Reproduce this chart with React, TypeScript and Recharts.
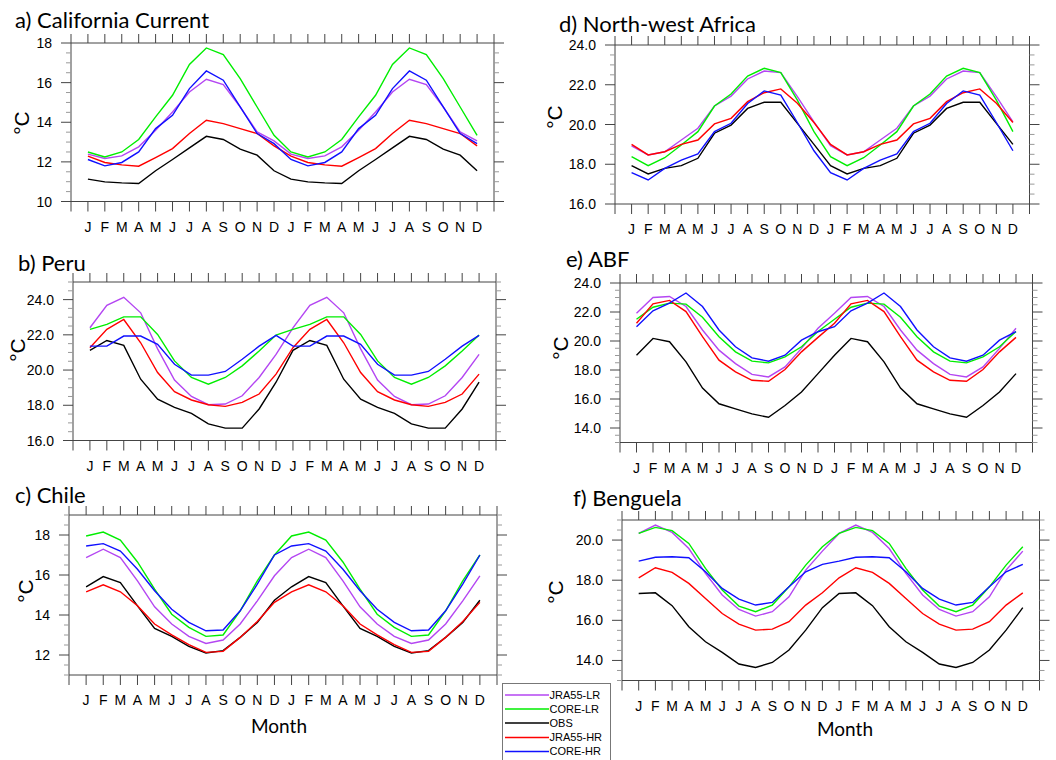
import React from 'react';
import { LineChart, Line, XAxis, YAxis } from 'recharts';

// ---------- data ----------
const MONTHS = ['J', 'F', 'M', 'A', 'M', 'J', 'J', 'A', 'S', 'O', 'N', 'D'];
const SERIES_NAMES = ['JRA55-LR', 'CORE-LR', 'OBS', 'JRA55-HR', 'CORE-HR'];
const SERIES_KEYS = ['jra55lr', 'corelr', 'obs', 'jra55hr', 'corehr'];
const SERIES_COLORS = ['#B446F2', '#00EE00', '#000000', '#FF0000', '#1010FF'];

// a) California Current
const calJra55Lr = [12.39, 12.17, 12.3, 12.76, 13.6, 14.52, 15.53, 16.17, 15.9, 14.77, 13.51, 13.06];
const calCoreLr = [12.5, 12.25, 12.5, 13.13, 14.27, 15.36, 16.92, 17.75, 17.41, 16.2, 14.77, 13.34];
const calObs = [11.13, 10.99, 10.94, 10.91, 11.55, 12.12, 12.71, 13.29, 13.13, 12.64, 12.34, 11.55];
const calJra55Hr = [12.29, 11.97, 11.85, 11.78, 12.22, 12.67, 13.43, 14.1, 13.93, 13.68, 13.43, 12.81];
const calCoreHr = [12.12, 11.8, 11.97, 12.5, 13.68, 14.35, 15.7, 16.59, 16.12, 14.77, 13.43, 12.92];

// b) Peru
const peruJra55Lr = [22.4, 23.68, 24.13, 23.25, 21.2, 19.43, 18.5, 18.03, 18.07, 18.54, 19.58, 20.89];
const peruCoreLr = [22.31, 22.59, 23.02, 23.02, 22.02, 20.52, 19.58, 19.2, 19.58, 20.24, 21.08, 21.99];
const peruObs = [21.12, 21.68, 21.4, 19.48, 18.35, 17.88, 17.54, 16.94, 16.7, 16.7, 17.79, 19.31];
const peruJra55Hr = [21.27, 22.31, 22.87, 21.55, 19.86, 18.77, 18.3, 18.03, 17.94, 18.16, 18.64, 19.77];
const peruCoreHr = [21.36, 21.36, 21.93, 21.93, 21.46, 20.33, 19.71, 19.71, 19.92, 20.61, 21.36, 21.97];

// c) Chile
const chileJra55Lr = [16.87, 17.29, 16.87, 15.71, 14.41, 13.55, 12.93, 12.58, 12.75, 13.55, 14.71, 15.96];
const chileCoreLr = [17.95, 18.15, 17.75, 16.65, 15.29, 14.04, 13.38, 12.93, 13.0, 14.21, 15.71, 17.0];
const chileObs = [15.41, 15.92, 15.62, 14.46, 13.33, 12.93, 12.43, 12.1, 12.22, 12.88, 13.63, 14.74];
const chileJra55Hr = [15.16, 15.51, 15.16, 14.46, 13.55, 13.01, 12.52, 12.13, 12.18, 12.88, 13.68, 14.63];
const chileCoreHr = [17.45, 17.57, 17.2, 16.29, 15.21, 14.29, 13.63, 13.21, 13.25, 14.21, 15.54, 17.0];

// d) North-west Africa
const nwaJra55Lr = [18.93, 18.47, 18.63, 19.22, 19.81, 20.93, 21.43, 22.29, 22.69, 22.61, 21.4, 20.13];
const nwaCoreLr = [18.38, 17.93, 18.33, 18.97, 19.64, 20.93, 21.53, 22.44, 22.83, 22.61, 21.23, 19.64];
const nwaObs = [17.93, 17.51, 17.79, 17.93, 18.3, 19.56, 19.97, 20.81, 21.12, 21.12, 20.06, 19.0];
const nwaJra55Hr = [19.0, 18.47, 18.63, 19.0, 19.22, 20.03, 20.31, 21.15, 21.6, 21.79, 21.07, 20.1];
const nwaCoreHr = [17.58, 17.21, 17.79, 18.21, 18.52, 19.64, 20.06, 21.06, 21.69, 21.48, 20.1, 18.68];

// e) ABF
const abfJra55Lr = [21.92, 23.0, 23.07, 22.38, 20.76, 19.37, 18.44, 17.7, 17.52, 18.21, 19.49, 20.88];
const abfCoreLr = [21.5, 22.33, 22.61, 22.54, 21.64, 20.3, 19.25, 18.61, 18.49, 18.91, 19.6, 20.66];
const abfObs = [19.02, 20.18, 19.95, 18.56, 16.75, 15.67, 15.32, 14.97, 14.74, 15.55, 16.48, 17.75];
const abfJra55Hr = [21.22, 22.56, 22.8, 22.03, 20.3, 18.68, 17.87, 17.29, 17.22, 18.03, 19.25, 20.25];
const abfCoreHr = [20.99, 22.08, 22.61, 23.31, 22.38, 20.76, 19.6, 18.84, 18.61, 19.02, 20.06, 20.64];

// f) Benguela
const bengJra55Lr = [20.33, 20.75, 20.38, 19.58, 18.34, 17.26, 16.54, 16.21, 16.43, 17.17, 18.5, 19.45];
const bengCoreLr = [20.33, 20.63, 20.47, 19.83, 18.59, 17.51, 16.71, 16.43, 16.76, 17.67, 18.75, 19.67];
const bengObs = [17.34, 17.37, 16.73, 15.68, 14.93, 14.4, 13.82, 13.65, 13.9, 14.52, 15.51, 16.63];
const bengJra55Hr = [18.12, 18.62, 18.39, 17.84, 17.09, 16.34, 15.81, 15.51, 15.56, 15.93, 16.76, 17.37];
const bengCoreHr = [18.95, 19.14, 19.17, 19.12, 18.42, 17.59, 17.06, 16.76, 16.89, 17.67, 18.42, 18.79];

// ---------- helpers ----------
const AXIS = '#444';
const MINOR = '#999';
const TICK_FONT = '"Liberation Sans", Arial, Helvetica, sans-serif';
const TITLE_FONT = 'Lato, "Open Sans", sans-serif';

function buildRows(series: number[][]) {
  const rows: any[] = [];
  for (let rep = 0; rep < 2; rep++) {
    for (let m = 0; m < 12; m++) {
      const row: any = { x: rep * 12 + m };
      SERIES_KEYS.forEach((k, i) => {
        row[k] = series[i][m];
      });
      rows.push(row);
    }
  }
  return rows;
}

const X_TICKS = Array.from({ length: 26 }, (_, i) => i - 1);

function isMajor(v: number) {
  return Math.abs(v / 2 - Math.round(v / 2)) < 1e-6;
}

type PanelProps = {
  title: string;
  series: number[][];
  domain: [number, number];
  decimals: number;
  box: { l: number; t: number; r: number; b: number };
};

const LW = 80;
const RW = 20;
const TH = 16;
const BH = 44;

function Panel({ series, domain, decimals, box }: PanelProps) {
  const rows = buildRows(series);
  const w = box.r - box.l;
  const h = box.b - box.t;
  const yTicks: number[] = [];
  for (let v = domain[0]; v <= domain[1] + 1e-6; v += 0.5) yTicks.push(Math.round(v * 10) / 10);

  const bottomTick = (p: any) => {
    const v = p.payload.value;
    const lab = v >= 0 && v <= 23 ? MONTHS[v % 12] : '';
    return (
      <g>
        <line x1={p.x} y1={p.y} x2={p.x} y2={p.y + 10} stroke={AXIS} strokeWidth={1} />
        <text x={p.x} y={p.y + 30} textAnchor="middle" fontSize={14} fontFamily={TICK_FONT} fill="#000">
          {lab}
        </text>
      </g>
    );
  };
  const topTick = (p: any) => (
    <line x1={p.x} y1={p.y} x2={p.x} y2={p.y - 9} stroke={AXIS} strokeWidth={1} />
  );
  const leftTick = (p: any) => {
    const v = p.payload.value;
    const major = isMajor(v);
    return (
      <g>
        <line x1={p.x - (major ? 10 : 5)} y1={p.y} x2={p.x} y2={p.y} stroke={major ? AXIS : MINOR} strokeWidth={1} />
        {major && (
          <text x={p.x - 19} y={p.y} dy="0.36em" textAnchor="end" fontSize={14} fontFamily={TICK_FONT} fill="#000">
            {v.toFixed(decimals)}
          </text>
        )}
      </g>
    );
  };
  const rightTick = (p: any) => {
    const v = p.payload.value;
    const major = isMajor(v);
    return <line x1={p.x} y1={p.y} x2={p.x + (major ? 10 : 5)} y2={p.y} stroke={major ? AXIS : MINOR} strokeWidth={1} />;
  };

  return (
    <div style={{ position: 'absolute', left: box.l - LW, top: box.t - TH }}>
      <LineChart width={w + LW + RW} height={h + TH + BH} data={rows} margin={{ top: 0, right: 0, bottom: 0, left: 0 }}>
        <XAxis
          xAxisId="b"
          dataKey="x"
          type="number"
          domain={[-1, 24]}
          allowDataOverflow
          ticks={X_TICKS}
          interval={0}
          height={BH}
          tickLine={false}
          tickSize={0}
          tickMargin={0}
          axisLine={{ stroke: AXIS, strokeWidth: 1 }}
          tick={bottomTick}
        />
        <XAxis
          xAxisId="t"
          dataKey="x"
          orientation="top"
          type="number"
          domain={[-1, 24]}
          allowDataOverflow
          ticks={X_TICKS}
          interval={0}
          height={TH}
          tickLine={false}
          tickSize={0}
          tickMargin={0}
          axisLine={{ stroke: AXIS, strokeWidth: 1 }}
          tick={topTick}
        />
        <YAxis
          yAxisId="l"
          type="number"
          domain={domain}
          allowDataOverflow
          ticks={yTicks}
          interval={0}
          width={LW}
          tickLine={false}
          tickSize={0}
          tickMargin={0}
          axisLine={{ stroke: AXIS, strokeWidth: 1 }}
          tick={leftTick}
        />
        <YAxis
          yAxisId="r"
          orientation="right"
          type="number"
          domain={domain}
          allowDataOverflow
          ticks={yTicks}
          interval={0}
          width={RW}
          tickLine={false}
          tickSize={0}
          tickMargin={0}
          axisLine={{ stroke: AXIS, strokeWidth: 1 }}
          tick={rightTick}
        />
        {SERIES_KEYS.map((k, i) => (
          <Line
            key={k}
            xAxisId="b"
            yAxisId="l"
            dataKey={k}
            name={SERIES_NAMES[i]}
            stroke={SERIES_COLORS[i]}
            strokeWidth={1.4}
            dot={false}
            activeDot={false}
            type="linear"
            isAnimationActive={false}
          />
        ))}
      </LineChart>
    </div>
  );
}

const PANELS: (PanelProps & { tx: number; ty: number; cx: number; cy: number })[] = [
  {
    title: 'a) California Current',
    series: [calJra55Lr, calCoreLr, calObs, calJra55Hr, calCoreHr],
    domain: [10, 18],
    decimals: 0,
    box: { l: 70.5, t: 43, r: 493.5, b: 201.5 },
    tx: 15, ty: 27.5, cx: 21, cy: 123,
  },
  {
    title: 'b) Peru',
    series: [peruJra55Lr, peruCoreLr, peruObs, peruJra55Hr, peruCoreHr],
    domain: [16, 25],
    decimals: 1,
    box: { l: 72.5, t: 281.5, r: 495.5, b: 440 },
    tx: 18, ty: 270.5, cx: 17, cy: 350,
  },
  {
    title: 'c) Chile',
    series: [chileJra55Lr, chileCoreLr, chileObs, chileJra55Hr, chileCoreHr],
    domain: [11, 19],
    decimals: 0,
    box: { l: 68.5, t: 514.5, r: 496.5, b: 674.5 },
    tx: 15, ty: 502.5, cx: 25, cy: 591,
  },
  {
    title: 'd) North-west Africa',
    series: [nwaJra55Lr, nwaCoreLr, nwaObs, nwaJra55Hr, nwaCoreHr],
    domain: [16, 24],
    decimals: 1,
    box: { l: 615, t: 45, r: 1029.5, b: 204 },
    tx: 559, ty: 31.5, cx: 554, cy: 117,
  },
  {
    title: 'e) ABF',
    series: [abfJra55Lr, abfCoreLr, abfObs, abfJra55Hr, abfCoreHr],
    domain: [13, 24],
    decimals: 1,
    box: { l: 620, t: 282.5, r: 1032.5, b: 442 },
    tx: 566, ty: 266.5, cx: 560, cy: 348,
  },
  {
    title: 'f) Benguela',
    series: [bengJra55Lr, bengCoreLr, bengObs, bengJra55Hr, bengCoreHr],
    domain: [13, 21],
    decimals: 1,
    box: { l: 621.5, t: 519.5, r: 1039, b: 680 },
    tx: 573, ty: 506, cx: 555, cy: 592,
  },
];

const LEGEND_ROWS_Y = [695, 709, 723, 737.5, 751.5];

export default function App() {
  return (
    <div style={{ position: 'absolute', left: 0, top: 0, width: 1056, height: 760, background: '#fff', overflow: 'hidden' }}>
      {PANELS.map((p) => (
        <Panel key={p.title} {...p} />
      ))}
      <svg width={1056} height={760} style={{ position: 'absolute', left: 0, top: 0, pointerEvents: 'none' }}>
        {PANELS.map((p) => (
          <g key={p.title}>
            <text x={p.tx} y={p.ty} fontSize={22} fontFamily={TITLE_FONT} fill="#000">
              {p.title}
            </text>
            <text
              x={p.cx}
              y={p.cy}
              transform={`rotate(-90 ${p.cx} ${p.cy})`}
              textAnchor="middle"
              dy="0.36em"
              fontSize={21}
              fontFamily={TICK_FONT}
              fill="#000"
            >
              °C
            </text>
          </g>
        ))}
        <text x={279} y={733} textAnchor="middle" fontSize={19} fontFamily={TITLE_FONT} fill="#000">
          Month
        </text>
        <text x={845} y={736} textAnchor="middle" fontSize={19} fontFamily={TITLE_FONT} fill="#000">
          Month
        </text>
        <rect x={502.5} y={683.5} width={108} height={90} fill="#fff" stroke="#777" strokeWidth={1} />
        {SERIES_NAMES.map((n, i) => (
          <g key={n}>
            <line x1={505} x2={549} y1={LEGEND_ROWS_Y[i]} y2={LEGEND_ROWS_Y[i]} stroke={SERIES_COLORS[i]} strokeWidth={1.5} />
            <text x={549.5} y={LEGEND_ROWS_Y[i]} dy="0.36em" fontSize={11} fontFamily={TICK_FONT} fill="#000">
              {n}
            </text>
          </g>
        ))}
      </svg>
    </div>
  );
}
